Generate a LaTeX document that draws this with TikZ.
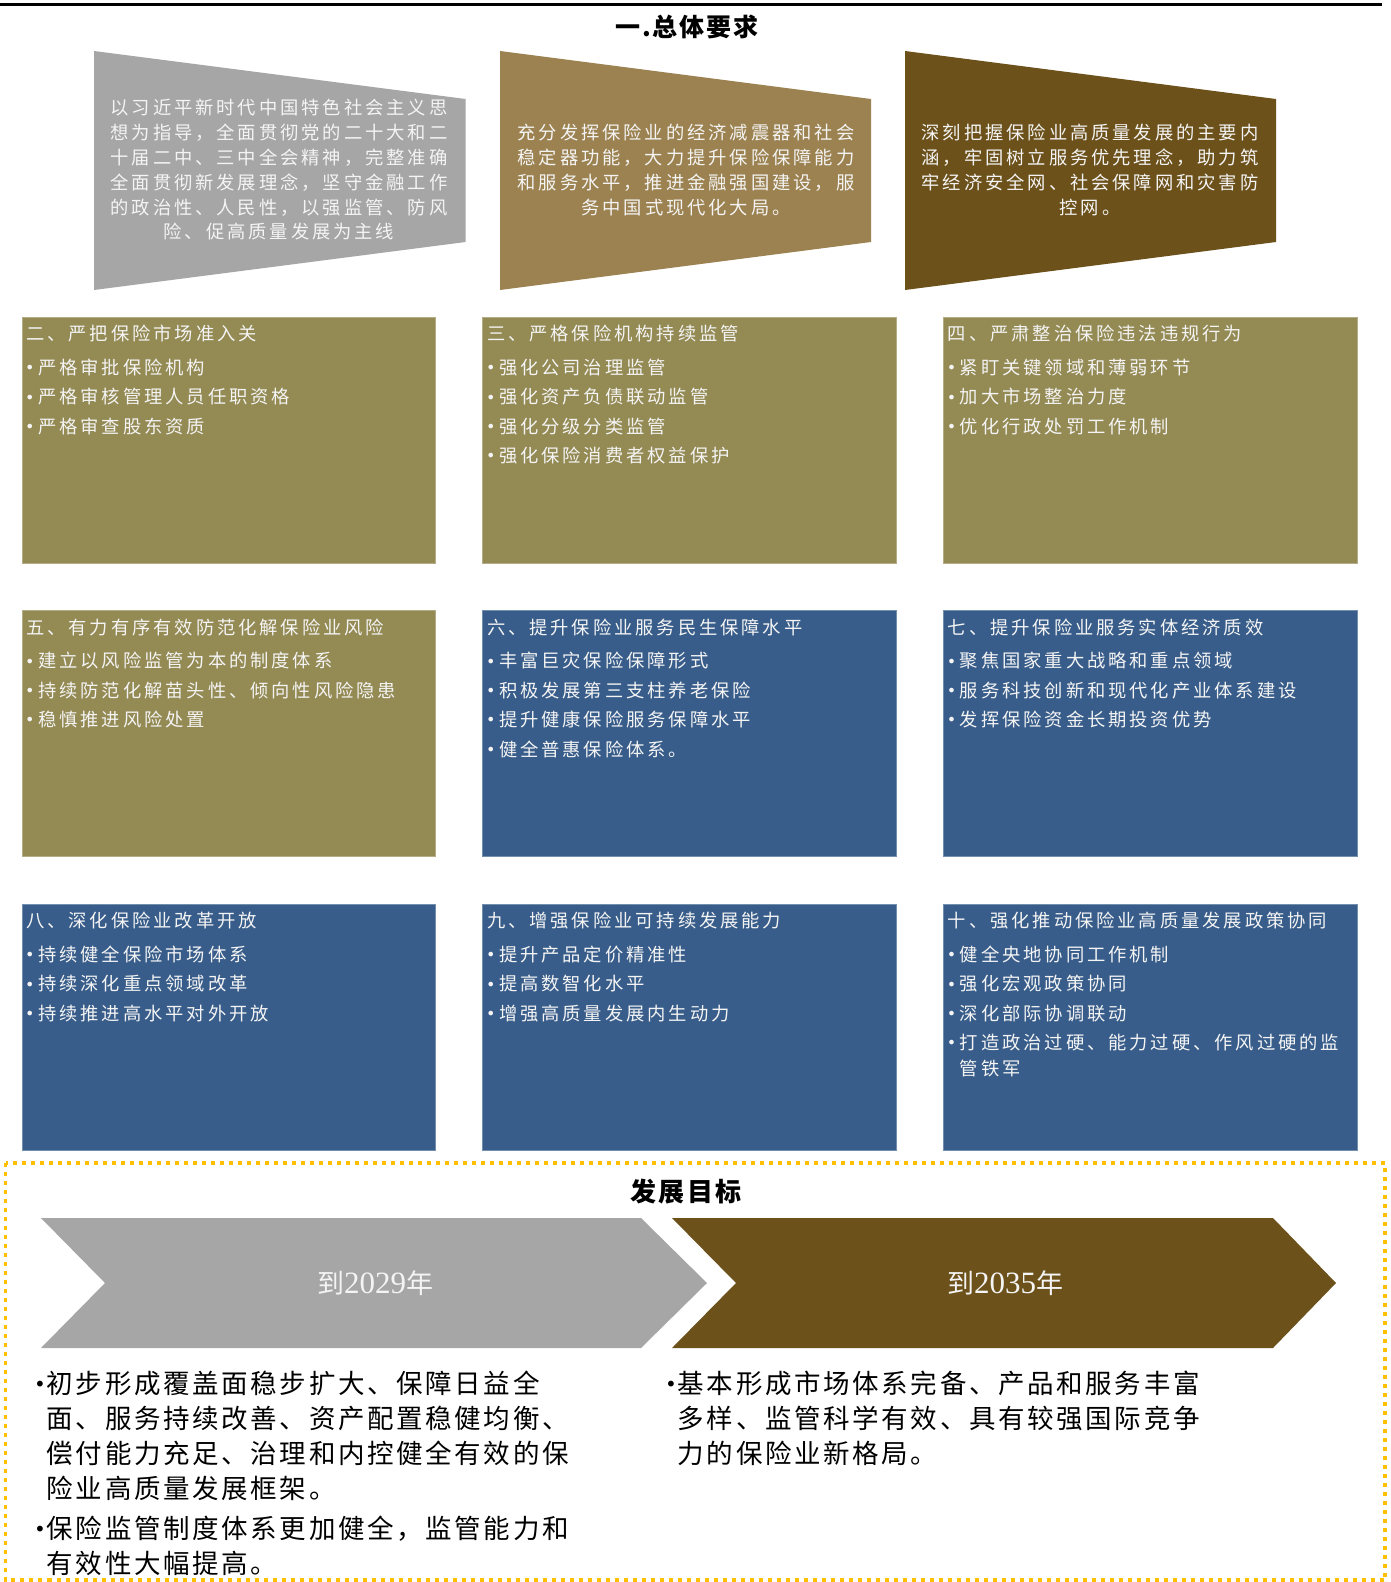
\documentclass[tikz,border=0pt]{standalone}
\usepackage{fontspec}
\setmainfont{Noto Sans CJK SC}
\newfontfamily\boxfont[LetterSpace=16]{Noto Sans CJK SC}
\newfontfamily\bigfont[LetterSpace=10]{Noto Sans CJK SC}
\newfontfamily\ttlfont[LetterSpace=8]{Noto Sans CJK SC}
\newfontfamily\dvfont{DejaVu Sans}
\newfontfamily\lserif{Liberation Serif}
\definecolor{cgray}{HTML}{A6A6A6}
\definecolor{ctan}{HTML}{9C8250}
\definecolor{cbrown}{HTML}{6C511B}
\definecolor{colive}{HTML}{948A54}
\definecolor{cblue}{HTML}{385D8A}
\definecolor{cyellow}{HTML}{FFC000}
\definecolor{offwhite}{HTML}{F4F4F4}
\newcommand\sbul{\makebox[12pt][l]{\hspace*{-1pt}\raisebox{0.8pt}{\dvfont\fontsize{16}{16}\selectfont •}}}
\newcommand\bbul{\makebox[12.5pt][l]{\raisebox{2.2pt}{\dvfont\fontsize{20}{20}\selectfont •}}}
\newcommand\bind{\hspace*{12.5pt}}
\newcommand\sind{\hspace*{12pt}}
\begin{document}
\begin{tikzpicture}[x=1pt,y=-1pt,
  box/.style={rectangle, anchor=north west, inner sep=0pt, minimum width=413.5pt, minimum height=246pt, line width=0.8pt},
  olivebox/.style={box, fill=colive, draw=colive!70!white},
  bluebox/.style={box, fill=cblue, draw=cblue!70!white},
  boxtxt/.style={anchor=north west, inner sep=0pt, align=left, text=offwhite, font=\boxfont\fontsize{18.3}{29.4}\selectfont},
  traptxt/.style={inner sep=0pt, align=center, text=offwhite, font=\boxfont\fontsize{18.3}{24.8}\selectfont},
  chevtxt/.style={inner sep=0pt, text=offwhite, font=\fontsize{27}{27}\selectfont},
  goaltxt/.style={anchor=north west, inner sep=0pt, align=left, text=black, font=\bigfont\fontsize{26.5}{35}\selectfont},
  ttl/.style={inner sep=0pt, text=black, font=\ttlfont\bfseries\fontsize{25}{25}\selectfont}
]
\useasboundingbox (0,0) rectangle (1391,1582);
\fill[white] (0,0) rectangle (1391,1582);

% top rule and title
\draw[line width=3pt] (0,4) -- (1382,4);
\node[ttl] (title) at (687,27) {一.总体要求};

% trapezoids
\fill[cgray] (94,51) -- (465.6,99) -- (465.6,242) -- (94,290) -- cycle;
\fill[ctan] (500,51) -- (871,99) -- (871,242) -- (500,290) -- cycle;
\fill[cbrown] (905,51) -- (1276,99) -- (1276,242) -- (905,290) -- cycle;
\node[traptxt] (p1) at (279,170) {以习近平新时代中国特色社会主义思\\想为指导，全面贯彻党的二十大和二\\十届二中、三中全会精神，完整准确\\全面贯彻新发展理念，坚守金融工作\\的政治性、人民性，以强监管、防风\\险、促高质量发展为主线};
\node[traptxt] (p2) at (686,170) {充分发挥保险业的经济减震器和社会\\稳定器功能，大力提升保险保障能力\\和服务水平，推进金融强国建设，服\\务中国式现代化大局。};
\node[traptxt] (p3) at (1090,170) {深刻把握保险业高质量发展的主要内\\涵，牢固树立服务优先理念，助力筑\\牢经济安全网、社会保障网和灾害防\\控网。};

% boxes row 1
\node[olivebox] (b2) at (21.5,316.5) {};
\node[olivebox] (b3) at (482.3,316.5) {};
\node[olivebox] (b4) at (943.2,316.5) {};
% row 2
\node[olivebox] (b5) at (21.5,610) {};
\node[bluebox] (b6) at (482.3,610) {};
\node[bluebox] (b7) at (943.2,610) {};
% row 3
\node[bluebox] (b8) at (21.5,903.5) {};
\node[bluebox] (b9) at (482.3,903.5) {};
\node[bluebox] (b10) at (943.2,903.5) {};

\node[boxtxt] (t2) at ([xshift=4.5pt,yshift=-8.5pt]b2.north west) {二、严把保险市场准入关\\[4.3pt]\sbul 严格审批保险机构\\\sbul 严格审核管理人员任职资格\\\sbul 严格审查股东资质};
\node[boxtxt] (t3) at ([xshift=4.5pt,yshift=-8.5pt]b3.north west) {三、严格保险机构持续监管\\[4.3pt]\sbul 强化公司治理监管\\\sbul 强化资产负债联动监管\\\sbul 强化分级分类监管\\\sbul 强化保险消费者权益保护};
\node[boxtxt] (t4) at ([xshift=4.5pt,yshift=-8.5pt]b4.north west) {四、严肃整治保险违法违规行为\\[4.3pt]\sbul 紧盯关键领域和薄弱环节\\\sbul 加大市场整治力度\\\sbul 优化行政处罚工作机制};
\node[boxtxt] (t5) at ([xshift=4.5pt,yshift=-8.5pt]b5.north west) {五、有力有序有效防范化解保险业风险\\[4.3pt]\sbul 建立以风险监管为本的制度体系\\\sbul 持续防范化解苗头性、倾向性风险隐患\\\sbul 稳慎推进风险处置};
\node[boxtxt] (t6) at ([xshift=4.5pt,yshift=-8.5pt]b6.north west) {六、提升保险业服务民生保障水平\\[4.3pt]\sbul 丰富巨灾保险保障形式\\\sbul 积极发展第三支柱养老保险\\\sbul 提升健康保险服务保障水平\\\sbul 健全普惠保险体系。};
\node[boxtxt] (t7) at ([xshift=4.5pt,yshift=-8.5pt]b7.north west) {七、提升保险业服务实体经济质效\\[4.3pt]\sbul 聚焦国家重大战略和重点领域\\\sbul 服务科技创新和现代化产业体系建设\\\sbul 发挥保险资金长期投资优势};
\node[boxtxt] (t8) at ([xshift=4.5pt,yshift=-8.5pt]b8.north west) {八、深化保险业改革开放\\[4.3pt]\sbul 持续健全保险市场体系\\\sbul 持续深化重点领域改革\\\sbul 持续推进高水平对外开放};
\node[boxtxt] (t9) at ([xshift=4.5pt,yshift=-8.5pt]b9.north west) {九、增强保险业可持续发展能力\\[4.3pt]\sbul 提升产品定价精准性\\\sbul 提高数智化水平\\\sbul 增强高质量发展内生动力};
\node[boxtxt] (t10) at ([xshift=4.5pt,yshift=-8.5pt]b10.north west) {十、强化推动保险业高质量发展政策协同\\[4.3pt]\sbul 健全央地协同工作机制\\\sbul 强化宏观政策协同\\\sbul 深化部际协调联动\\\sbul 打造政治过硬、能力过硬、作风过硬的监\\[-3.4pt]\sind 管铁军};

% goals frame
\draw[cyellow, line width=3.5pt, dash pattern=on 4pt off 5pt] (5.5,1163) rectangle (1385,1580);
\node[ttl, font=\ttlfont\bfseries\fontsize{26}{26}\selectfont] (goal) at (686,1192) {发展目标};

% chevrons
\fill[cgray] (41,1218) -- (641,1218) -- (707,1283) -- (641,1348) -- (41,1348) -- (105,1283) -- cycle;
\fill[cbrown] (672,1218) -- (1273,1218) -- (1336,1283) -- (1273,1348) -- (672,1348) -- (736,1283) -- cycle;
\node[chevtxt] (c1) at (375,1283) {到{\lserif\fontsize{31}{31}\selectfont 2029}年};
\node[chevtxt] (c2) at (1005,1283) {到{\lserif\fontsize{31}{31}\selectfont 2035}年};

% goal texts
\node[goaltxt] (g1) at (34,1371) {\bbul 初步形成覆盖面稳步扩大、保障日益全\\\bind 面、服务持续改善、资产配置稳健均衡、\\\bind 偿付能力充足、治理和内控健全有效的保\\\bind 险业高质量发展框架。\\[5pt]\bbul 保险监管制度体系更加健全，监管能力和\\\bind 有效性大幅提高。};
\node[goaltxt] (g2) at (665,1371) {\bbul 基本形成市场体系完备、产品和服务丰富\\\bind 多样、监管科学有效、具有较强国际竞争\\\bind 力的保险业新格局。};
\end{tikzpicture}
\end{document}
